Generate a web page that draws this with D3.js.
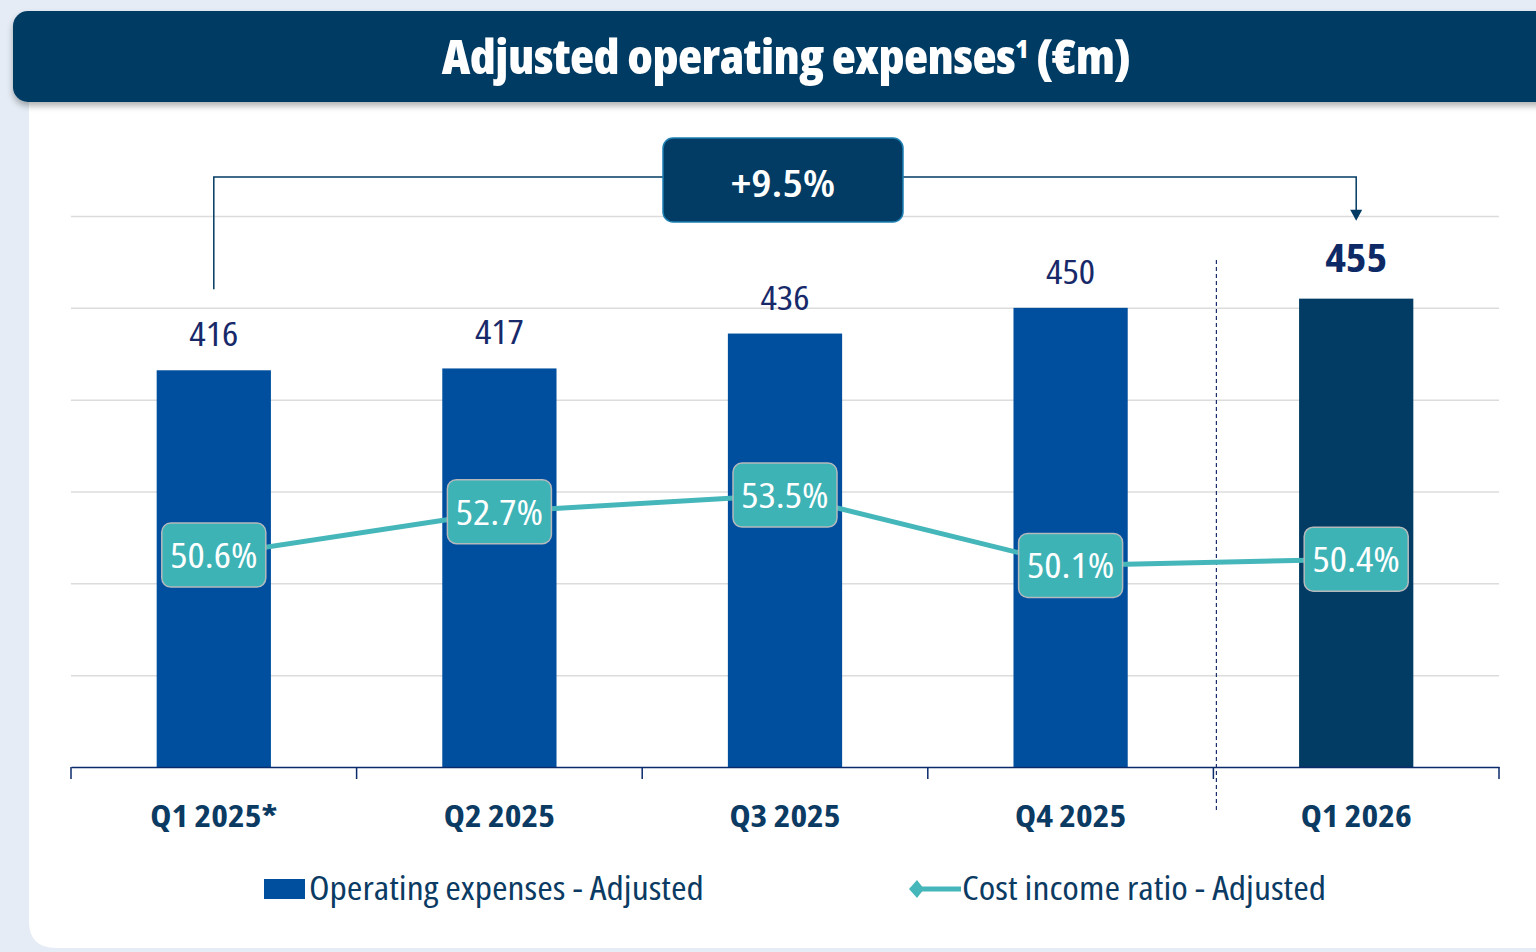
<!DOCTYPE html>
<html>
<head>
<meta charset="utf-8">
<script src="https://cdn.jsdelivr.net/npm/d3@7"></script>
<style>
  html, body { margin: 0; padding: 0; background: #e5ecf5; }
  svg { display: block; }
  text { font-family: "Open Sans", "Liberation Sans Narrow", sans-serif; font-stretch: 75%; }
</style>
</head>
<body>
<div id="chart"></div>
<script>
// data
const quarters = ['Q1 2025*', 'Q2 2025', 'Q3 2025', 'Q4 2025', 'Q1 2026'];
const opex = [416, 417, 436, 450, 455];
const costIncome = [50.6, 52.7, 53.5, 50.1, 50.4];
const growthLabel = '+9.5%';
const legendItems = ['Operating expenses - Adjusted', 'Cost income ratio - Adjusted'];

const W = 1536, H = 952;
const navy = '#023b63', barBlue = '#004f9f', teal = '#3db3b6';
// only the condensed cut is installed, so widen it a bit to get the semi-condensed look
const widen = 1.17;
const at = (px, py, k) => `translate(${px},${py}) scale(${k || widen},1)`;

const svg = d3.select('#chart').append('svg')
    .attr('width', W)
    .attr('height', H);

const defs = svg.append('defs');
const shadow = defs.append('filter').attr('id', 'shadow')
    .attr('x', '-5%').attr('y', '-20%').attr('width', '110%').attr('height', '160%');
shadow.append('feDropShadow')
    .attr('dx', 0).attr('dy', 4).attr('stdDeviation', 3)
    .attr('flood-color', '#000').attr('flood-opacity', 0.3);

// white card, rounded bottom-left
svg.append('path')
    .attr('d', 'M29,100 L1560,100 L1560,948 L56,948 Q29,948 29,921 Z')
    .attr('fill', '#fff');

// title bar
svg.append('rect')
    .attr('x', 13).attr('y', 11)
    .attr('width', 1580).attr('height', 91)
    .attr('rx', 15)
    .attr('fill', navy)
    .attr('filter', 'url(#shadow)');

const title = svg.append('text')
    .attr('transform', at(786, 74, 1.06))
    .attr('text-anchor', 'middle')
    .attr('fill', '#fff')
    .style('font-size', '47px')
    .style('font-weight', 800)
    .style('letter-spacing', '-0.5px');
title.append('tspan').text('Adjusted operating expenses');
title.append('tspan').text('1').attr('dy', -16).style('font-size', '25px');
title.append('tspan').text(' (€m)').attr('dy', 16);

// scales
const x = d3.scaleBand()
    .domain(quarters)
    .range([71, 1499])
    .paddingInner(0.6)
    .paddingOuter(0.3);

const y = d3.scaleLinear()
    .domain([200, 500])
    .range([767, 216]);

const y2 = d3.scaleLinear()
    .domain([40.35, 67])
    .range([767, 216]);

const cx = q => x(q) + x.bandwidth() / 2;

// gridlines
const grid = svg.append('g')
    .attr('transform', 'translate(71,0)')
    .call(d3.axisLeft(y)
        .tickValues(y.ticks(6).filter(v => v > 200))
        .tickSize(-1428)
        .tickFormat(''));
grid.select('.domain').remove();
grid.selectAll('line').attr('stroke', '#dcdcdc').attr('stroke-width', 1.5);

// bars
svg.append('g').selectAll('rect')
    .data(opex)
    .join('rect')
    .attr('x', (d, i) => x(quarters[i]))
    .attr('y', d => y(d))
    .attr('width', x.bandwidth())
    .attr('height', d => y(200) - y(d))
    .attr('fill', (d, i) => i === opex.length - 1 ? navy : barBlue);

// value labels above bars
const isLast = i => i === opex.length - 1;
svg.append('g').selectAll('text')
    .data(opex)
    .join('text')
    .attr('transform', (d, i) => at(cx(quarters[i]), y(d) - (isLast(i) ? 27 : 24), isLast(i) ? 1.13 : 1.2))
    .attr('text-anchor', 'middle')
    .attr('fill', (d, i) => isLast(i) ? '#0d2a66' : '#18296a')
    .style('font-size', (d, i) => isLast(i) ? '39px' : '32px')
    .style('font-weight', (d, i) => isLast(i) ? 700 : 400)
    .text(d => d);

// x axis
const xAxis = svg.append('g')
    .attr('transform', 'translate(0,767)')
    .call(d3.axisBottom(x).tickSize(0).tickPadding(38));
xAxis.select('.domain').attr('stroke', '#0b2a6b').attr('stroke-width', 1.5);
xAxis.selectAll('text')
    .attr('transform', 'scale(1.15,1)')
    .attr('fill', '#0b3b63')
    .style('font-size', '31px')
    .style('font-weight', 700)
    .style('font-family', '"Open Sans", sans-serif');

// boundary ticks between quarters
svg.append('g').selectAll('line')
    .data(d3.range(quarters.length + 1))
    .join('line')
    .attr('x1', i => x.range()[0] + i * x.step())
    .attr('x2', i => x.range()[0] + i * x.step())
    .attr('y1', 767).attr('y2', 779)
    .attr('stroke', '#0b2a6b').attr('stroke-width', 1.5);

// dashed separator before the latest quarter
const sepX = x.range()[0] + (quarters.length - 1) * x.step() + 3;
svg.append('line')
    .attr('x1', sepX).attr('x2', sepX)
    .attr('y1', 260).attr('y2', 813)
    .attr('stroke', '#1b2f6e').attr('stroke-width', 1.2)
    .attr('stroke-dasharray', '4,3');

// cost income ratio line
const line = d3.line()
    .x((d, i) => cx(quarters[i]))
    .y(d => y2(d));

svg.append('path')
    .datum(costIncome)
    .attr('d', line)
    .attr('fill', 'none')
    .attr('stroke', '#45b6b9')
    .attr('stroke-width', 5);

const ratioLabels = svg.append('g').selectAll('g')
    .data(costIncome)
    .join('g')
    .attr('transform', (d, i) => `translate(${cx(quarters[i])},${y2(d)})`);
ratioLabels.append('rect')
    .attr('x', -52).attr('y', -32)
    .attr('width', 104).attr('height', 64)
    .attr('rx', 9)
    .attr('fill', teal)
    .attr('stroke', '#b5b9bc').attr('stroke-width', 1.5);
ratioLabels.append('text')
    .attr('transform', at(0, 13, 1.16))
    .attr('text-anchor', 'middle')
    .attr('fill', '#fff')
    .style('font-size', '35px')
    .text(d => d.toFixed(1) + '%');

// growth bracket from first to last quarter
const first = quarters[0], last = quarters[quarters.length - 1];
const bracketY = 177;
svg.append('path')
    .attr('d', `M${cx(first)},${y(opex[0]) - 81} V${bracketY} H${cx(last)} V${y(opex[opex.length - 1]) - 86}`)
    .attr('fill', 'none')
    .attr('stroke', navy)
    .attr('stroke-width', 1.5);
svg.append('path')
    .attr('d', `M${cx(last) - 6},${y(opex[opex.length - 1]) - 89} h12 l-6,11 z`)
    .attr('fill', navy);

const midX = (cx(first) + cx(last)) / 2;
svg.append('rect')
    .attr('x', midX - 122).attr('y', 138)
    .attr('width', 240).attr('height', 84)
    .attr('rx', 10)
    .attr('fill', navy)
    .attr('stroke', '#1d7fb2').attr('stroke-width', 1.5);
svg.append('text')
    .attr('transform', at(midX - 2, 197, 1.2))
    .attr('text-anchor', 'middle')
    .attr('fill', '#fff')
    .style('font-size', '38px')
    .style('font-weight', 600)
    .text(growthLabel);

// legend
const legend = svg.append('g');
const lg0 = legend.append('g').attr('transform', 'translate(264,889)');
lg0.append('rect')
    .attr('x', 0).attr('y', -10)
    .attr('width', 41).attr('height', 20)
    .attr('fill', barBlue);
lg0.append('text')
    .attr('transform', at(45, 11, 1.18))
    .attr('fill', '#0b3b63')
    .style('font-size', '32px')
    .text(legendItems[0]);

const lg1 = legend.append('g').attr('transform', 'translate(909,889)');
lg1.append('line')
    .attr('x1', 6).attr('x2', 52)
    .attr('stroke', '#45b6b9').attr('stroke-width', 5);
lg1.append('path')
    .attr('d', 'M0,0 L8,-9 L15,0 L8,9 Z')
    .attr('fill', '#45b6b9');
lg1.append('text')
    .attr('transform', at(53, 11, 1.18))
    .attr('fill', '#0b3b63')
    .style('font-size', '32px')
    .text(legendItems[1]);
</script>
</body>
</html>
